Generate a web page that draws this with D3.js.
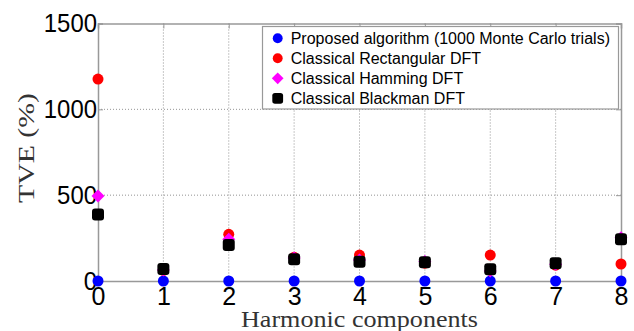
<!DOCTYPE html>
<html>
<head>
<meta charset="utf-8">
<script src="https://cdn.jsdelivr.net/npm/d3@7"></script>
<style>
  body { margin: 0; background: #fff; }
</style>
</head>
<body>
<div class="canvas"></div>
<script>
// harmonic index on the x axis
const harmonics = [0, 1, 2, 3, 4, 5, 6, 7, 8];

// TVE (%) for each method
const proposed    = [0, 0, 0, 0, 0, 0, 0, 0, 0];
const rectangular = [1176, 62, 272, 138, 151, 104, 151, 92, 99];
const hamming     = [495, 64, 243, 134, 122, 114, 58, 98, 252];
const blackman    = [388, 70, 210, 126, 112, 109, 68, 103, 243];

const yTicks = [0, 500, 1000, 1500];
const legendLabels = [
  'Proposed algorithm (1000 Monte Carlo trials)',
  'Classical Rectangular DFT',
  'Classical Hamming DFT',
  'Classical Blackman DFT'
];

const W = 634, H = 331;
const svg = d3.select('.canvas')
  .append('svg')
  .attr('width', W)
  .attr('height', H);

// plot box
const pLeft = 98, pRight = 621, pTop = 23.5, pBottom = 281;

const x = d3.scaleLinear().domain([0, 8]).range([pLeft, pRight]);
const y = d3.scaleLinear().domain([0, 1500]).range([pBottom, pTop]);

// dotted grid
const grid = svg.append('g');
grid.selectAll('line.v')
  .data(harmonics.slice(1, -1))
  .enter().append('line')
  .attr('x1', d => x(d)).attr('x2', d => x(d))
  .attr('y1', pTop).attr('y2', pBottom)
  .attr('stroke', '#777').attr('stroke-width', 0.8)
  .attr('stroke-dasharray', '1,2');
grid.selectAll('line.h')
  .data(yTicks.slice(1, -1))
  .enter().append('line')
  .attr('x1', pLeft).attr('x2', pRight)
  .attr('y1', d => y(d)).attr('y2', d => y(d))
  .attr('stroke', '#777').attr('stroke-width', 0.8)
  .attr('stroke-dasharray', '1,2');

// axes (matlab style box)
const axColor = '#999';
const xAxis = svg.append('g')
  .attr('transform', `translate(0,${pBottom})`)
  .call(d3.axisBottom(x).tickValues(harmonics).tickSize(-5).tickPadding(6).tickFormat(d3.format('d')));
const xTop = svg.append('g')
  .attr('transform', `translate(0,${pTop})`)
  .call(d3.axisTop(x).tickValues(harmonics).tickSize(-5).tickFormat(''));
const yAxis = svg.append('g')
  .attr('transform', `translate(${pLeft},0)`)
  .call(d3.axisLeft(y).tickValues(yTicks).tickSize(-5).tickPadding(1).tickFormat(d3.format('d')));
const yRight = svg.append('g')
  .attr('transform', `translate(${pRight},0)`)
  .call(d3.axisRight(y).tickValues(yTicks).tickSize(-5).tickFormat(''));

[xAxis, xTop, yAxis, yRight].forEach(a => {
  a.select('.domain').attr('stroke', axColor).attr('stroke-width', 1.5);
  a.selectAll('.tick line').attr('stroke', axColor);
  a.selectAll('.tick text')
    .attr('fill', '#000')
    .style('font-family', '"Liberation Sans", Arial, sans-serif')
    .style('font-size', '25px');
});
yAxis.selectAll('.tick text')
  .attr('textLength', d => String(d).length * 13.3)
  .attr('lengthAdjust', 'spacingAndGlyphs');

// axis titles
svg.append('text')
  .attr('transform', `translate(34,148) rotate(-90)`)
  .attr('text-anchor', 'middle')
  .attr('textLength', 110)
  .attr('lengthAdjust', 'spacingAndGlyphs')
  .style('font-family', '"Liberation Serif", "DejaVu Serif", serif')
  .style('font-size', '24px')
  .attr('fill', '#333')
  .text('TVE (%)');

svg.append('text')
  .attr('x', 359.5)
  .attr('y', 327)
  .attr('text-anchor', 'middle')
  .attr('textLength', 237)
  .attr('lengthAdjust', 'spacingAndGlyphs')
  .style('font-family', '"Liberation Serif", "DejaVu Serif", serif')
  .style('font-size', '23.5px')
  .attr('fill', '#333')
  .text('Harmonic components');

// markers
const series = [
  { values: proposed, color: '#0000ff', kind: 'circle' },
  { values: rectangular, color: '#ff0000', kind: 'circle' },
  { values: hamming, color: '#ff00ff', kind: 'diamond' },
  { values: blackman, color: '#000000', kind: 'square' }
];

function drawMarker(sel, kind, color, scale) {
  if (kind === 'square') {
    const s = 12 * scale;
    sel.append('rect')
      .attr('x', -s / 2).attr('y', -s / 2)
      .attr('width', s).attr('height', s)
      .attr('rx', 3 * scale)
      .attr('fill', color);
  } else if (kind === 'diamond') {
    const r = 6.5 * scale;
    sel.append('path')
      .attr('d', `M0,${-r}L${r},0L0,${r}L${-r},0Z`)
      .attr('fill', color);
  } else {
    sel.append('circle')
      .attr('r', 5.5 * scale)
      .attr('fill', color);
  }
}

series.forEach(s => {
  const g = svg.append('g');
  g.selectAll('g')
    .data(harmonics.map((h, i) => [h, s.values[i]]))
    .enter().append('g')
    .attr('transform', d => `translate(${x(d[0])},${y(d[1])})`)
    .each(function () { drawMarker(d3.select(this), s.kind, s.color, 1); });
});

// legend
const legend = svg.append('g');
legend.append('rect')
  .attr('x', 262.5).attr('y', 26.5)
  .attr('width', 356).attr('height', 82.5)
  .attr('fill', '#fff')
  .attr('stroke', '#999').attr('stroke-width', 1.2);

legendLabels.forEach((label, i) => {
  const row = legend.append('g')
    .attr('transform', `translate(277.7,${38.3 + i * 20})`);
  drawMarker(row, series[i].kind, series[i].color, 0.9);
  row.append('text')
    .attr('x', 13)
    .attr('dy', '0.35em')
    .style('font-family', '"Liberation Sans", Arial, sans-serif')
    .style('font-size', '16px')
    .attr('fill', '#000')
    .text(label);
});
</script>
</body>
</html>
